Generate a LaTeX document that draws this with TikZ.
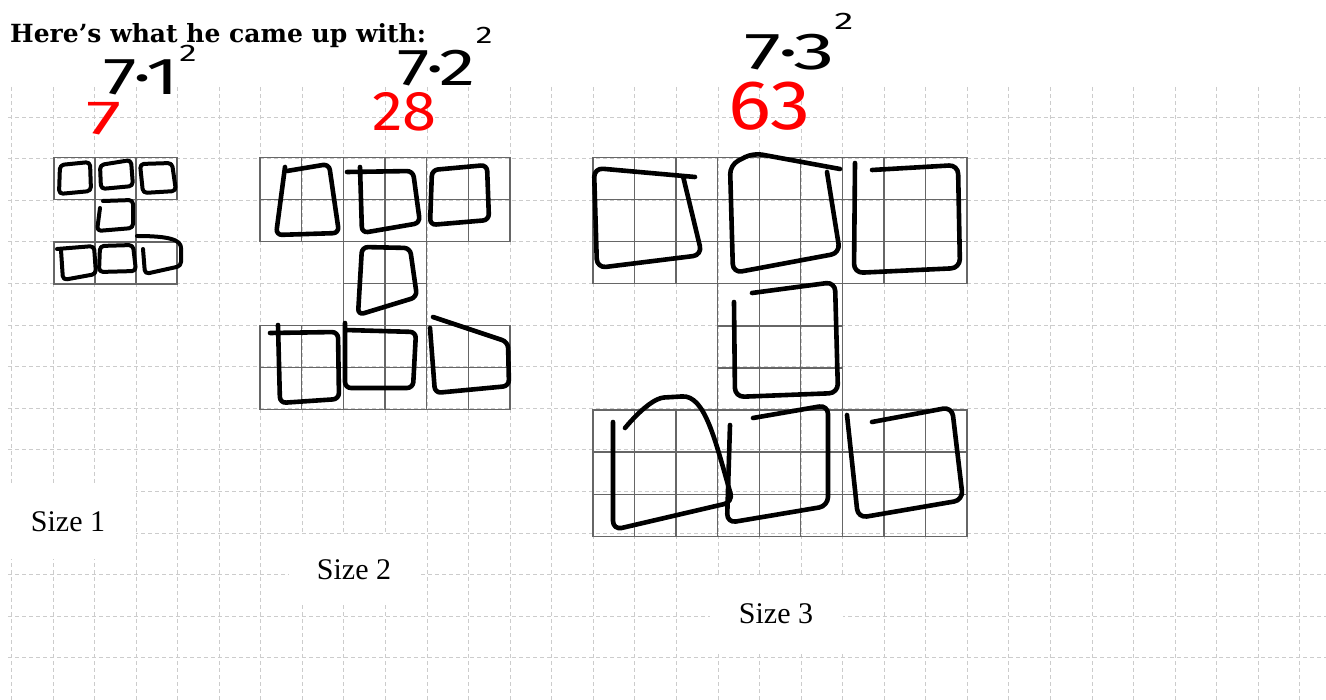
\documentclass[tikz,border=0pt]{standalone}
\usepackage{fontspec}
\setmainfont{Liberation Serif}
\newfontfamily\headfont{DejaVu Serif}
\newfontfamily\handfont{Fira Sans}
\usetikzlibrary{positioning}
\newcommand{\sq}[2]{\raisebox{#1}{\fontsize{24}{24}\selectfont #2}}
\newcommand{\wide}[2]{\scalebox{#1}[1]{#2}}

\begin{document}
\begin{tikzpicture}[x=1pt, y=-1pt,
  dotgrid/.style = {gray!40, line width=0.9pt, dash pattern=on 4pt off 3pt},
  cellgrid/.style = {black!60, line width=1.4pt},
  ink/.style = {line width=4.6pt, line cap=round, line join=round, rounded corners=6pt},
  sizelabel/.style = {fill=white, inner sep=0pt, font=\fontsize{30}{32}\selectfont},
  blacknote/.style = {inner sep=0pt, font=\handfont\fontsize{52}{52}\selectfont},
  rednote/.style = {inner sep=0pt, text=red, font=\handfont\fontsize{#1}{#1}\selectfont},
]
\useasboundingbox (0,0) rectangle (1326,700);
\fill[white] (0,0) rectangle (1326,700);

% background squared paper
\foreach \k in {-1,...,30}
  \draw[dotgrid] (53+41.56*\k,87) -- (53+41.56*\k,700);
\foreach \k in {0,...,13}
  \draw[dotgrid] (8,117+41.6*\k) -- (1326,117+41.6*\k);

\node[anchor=base west, inner sep=0pt,
  font=\headfont\bfseries\fontsize{25}{27}\selectfont] (title) at (10,43)
  {Here’s what he came up with:};

\node[sizelabel, minimum width=136, minimum height=74] (lab1) at (68,522) {Size 1};
\node[sizelabel, minimum width=130, minimum height=70] (lab2) at (354,570) {Size 2};
\node[sizelabel, minimum width=133, minimum height=77] (lab3) at (776,614) {Size 3};

% the three figures on the grid
\begin{scope}[shift={(54,157.5)}, x=41pt, y=-42.2pt]
  \foreach \bx/\by in {0/0,1/0,2/0,1/1,0/2,1/2,2/2}
    \draw[cellgrid] (\bx,\by) rectangle ++(1,1);
\end{scope}
\begin{scope}[shift={(260,157.5)}, x=41.67pt, y=-42pt]
  \foreach \bx/\by in {0/0,1/0,2/0,1/1,0/2,1/2,2/2}
    \foreach \i in {0,1}
      \foreach \j in {0,1}
        \draw[cellgrid] (2*\bx+\i,2*\by+\j) rectangle ++(1,1);
\end{scope}
\begin{scope}[shift={(593,157.5)}, x=41.55pt, y=-42.1pt]
  \foreach \bx/\by in {0/0,1/0,2/0,1/1,0/2,1/2,2/2}
    \foreach \i in {0,1,2}
      \foreach \j in {0,1,2}
        \draw[cellgrid] (3*\bx+\i,3*\by+\j) rectangle ++(1,1);
\end{scope}

% size 1 squares
\begin{scope}[ink, line width=4pt, rounded corners=4pt]
  \draw (60,165) -- (90,162) -- (91,191) -- (59,194) -- cycle;
  \draw (100,165) -- (131,160) -- (133,186) -- (101,189) -- cycle;
  \draw (140,164) -- (172,163) -- (176,191) -- (143,193) -- cycle;
  \draw (103,201) -- (133,200) -- (133,228) -- (97,231) -- (100,208);
  \draw (57,249) -- (94,246) -- (96,274) -- (63,280) -- (61,250);
  \draw (100,246) -- (133,245) -- (136,271) -- (99,272) -- cycle;
  \draw (137,236) .. controls (170,236) and (181,240) .. (181,252)
    -- (181,266) -- (145,274) -- (143,249);
\end{scope}

% size 2 squares
\begin{scope}[ink]
  \draw (285,167) -- (276,235) -- (339,233) -- (329,164) -- (287,171);
  \draw (347,172) -- (413,171) -- (420,223) -- (362,233) -- (360,167);
  \draw (432,170) -- (487,165) -- (489,220) -- (430,225) -- cycle;
  \draw (362,247) -- (410,248) -- (417,297) -- (358,315) -- cycle;
  \draw (270,333) -- (338,332) -- (339,399) -- (280,403) -- (278,325);
  \draw (345,323) -- (345,388) -- (413,388) -- (416,332) -- (345,330);
  \draw (433,317) -- (508,342) -- (509,386) -- (435,393) -- (430,328);
\end{scope}

% size 3 squares
\begin{scope}[ink, rounded corners=9pt]
  \draw (695,177) -- (594,168) -- (597,268) -- (702,255) -- (683,176);
  \draw (840,169) -- (753,153) -- (730,165) -- (733,273) -- (840,253) -- (827,172);
  \draw (855,163) -- (854,273) -- (960,268) -- (958,165) -- (872,170);
  \draw (752,293) -- (835,282) -- (838,393) -- (735,397) -- (734,302);
  \draw (613,422) -- (613,530) -- (733,502)
    .. controls (715,440) and (705,395) .. (673,397)
    .. controls (655,398) and (640,410) .. (625,428);
  \draw (730,425) -- (727,523) -- (828,506) -- (828,405) -- (753,418);
  \draw (847,415) -- (858,518) -- (963,500) -- (952,407) -- (872,422);
\end{scope}

% handwritten counts
\node[blacknote, anchor=base west] (f1) at (103,95) {\wide{1.45}{7·1\sq{33pt}{2}}};
\node[blacknote, anchor=base west] (f2) at (397,86) {\wide{1.4}{7·2\sq{42pt}{2}}};
\node[blacknote, anchor=base west] (f3) at (744,70) {\wide{1.6}{7·3\sq{40pt}{2}}};
\node[rednote=48, anchor=base west] (n1) at (86,135) {\wide{1.65}{7}};
\node[rednote=56, anchor=base west] (n2) at (372,131) {\wide{1.1}{28}};
\node[rednote=70, anchor=base west] (n3) at (728,130) {\wide{1.15}{63}};
\end{tikzpicture}
\end{document}
